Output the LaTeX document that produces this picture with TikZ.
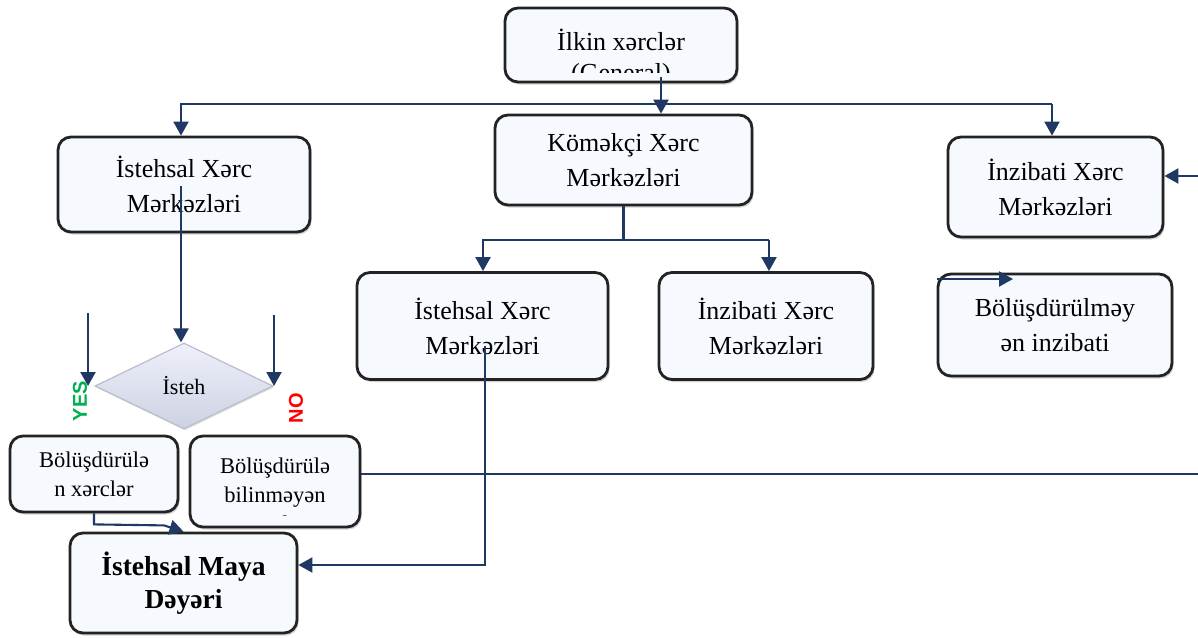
\documentclass[tikz,border=0pt]{standalone}
\usepackage{fontspec}
\setmainfont{Liberation Serif}
\newfontfamily\lsans{Liberation Sans}
\usetikzlibrary{arrows.meta,shapes.geometric,shadows}
\definecolor{navy}{RGB}{31,56,100}
\definecolor{boxfill}{RGB}{246,250,255}
\definecolor{boxedge}{RGB}{35,35,35}
\definecolor{diatop}{RGB}{238,240,250}
\definecolor{diabot}{RGB}{205,209,226}
\definecolor{diaedge}{RGB}{185,189,205}
\definecolor{yesgreen}{RGB}{0,176,80}
\definecolor{nored}{RGB}{255,0,0}
\tikzset{
  box/.style={draw=boxedge, line width=2.8pt, fill=boxfill, rounded corners=13pt,
    inner sep=0pt, align=center,
    drop shadow={opacity=0.35, shadow xshift=1.5pt, shadow yshift=-2.5pt}},
  bigtxt/.style={font=\fontsize{26}{35}\selectfont},
  smalltxt/.style={font=\fontsize{22.5}{29}\selectfont},
  conn/.style={draw=navy, line width=2.1pt},
  arr/.style={conn, -{Triangle[length=14pt,width=15pt]}},
  dia/.style={diamond, draw=diaedge, line width=1.2pt, top color=diatop, bottom color=diabot,
    inner sep=0pt, minimum width=178pt, minimum height=86pt, aspect=2.07,
    drop shadow={opacity=0.25, shadow xshift=1pt, shadow yshift=-1.5pt}},
  lbl/.style={font=\lsans\bfseries\fontsize{20}{20}\selectfont, rotate=90}
}
\begin{document}
\begin{tikzpicture}[x=1pt,y=-1pt]
\useasboundingbox (0,0) rectangle (1198,637);
\fill[white] (0,0) rectangle (1198,637);

% top box with clipped text
\node[box, minimum width=232pt, minimum height=74pt] (top) at (621,45) {};
\begin{scope}
  \clip (510,12) rectangle (732,72);
  \node[bigtxt] (toptxt1) at (621,40) {İlkin xərclər};
  \node[bigtxt] (toptxt2) at (621,75) {(General)};
\end{scope}

\node[box, bigtxt, minimum width=257pt, minimum height=90pt] (kom) at (623.5,160) {Köməkçi Xərc\\Mərkəzləri};
\node[box, bigtxt, minimum width=252pt, minimum height=95pt] (ist1) at (184,184.5) {İstehsal Xərc\\Mərkəzləri};
\node[box, bigtxt, minimum width=215pt, minimum height=100pt] (inz1) at (1055.5,187) {İnzibati Xərc\\Mərkəzləri};
\node[box, bigtxt, minimum width=251pt, minimum height=107pt] (ist2) at (482.5,326) {İstehsal Xərc\\Mərkəzləri};
\node[box, bigtxt, minimum width=214pt, minimum height=107pt] (inz2) at (766,326) {İnzibati Xərc\\Mərkəzləri};
\node[box, bigtxt, minimum width=234pt, minimum height=102pt] (bol3) at (1055,325) {Bölüşdürülməy\\ən inzibati};

\node[dia] (dia) at (184,386) {\fontsize{22}{22}\selectfont İsteh};
\node[lbl, text=yesgreen] (yes) at (80,401) {YES};
\node[lbl, text=nored] (no) at (296,408) {NO};

\node[box, smalltxt, minimum width=168pt, minimum height=76pt] (bol1) at (94,474) {Bölüşdürülə\\n xərclər};
\node[box, minimum width=170pt, minimum height=91pt] (bol2) at (275,481.5) {};
\begin{scope}
  \clip (194,440) rectangle (356,515);
  \node[smalltxt, align=center] (bol2txt) at (275,495) {Bölüşdürülə\\bilinməyən\\xərclər};
\end{scope}

\node[box, font=\bfseries\fontsize{27.5}{33}\selectfont, minimum width=227pt, minimum height=100pt] (maya) at (183.5,583) {İstehsal Maya\\Dəyəri};

% connectors
\coordinate (c1) at (661,77);
\draw[arr] (c1) -- (c1 |- kom.north);

\coordinate (hL) at (181,104);
\coordinate (hR) at (1052,104);
\draw[arr] (hR) -- (hL) -- (hL |- ist1.north);
\draw[arr] (hR) -- (hR |- inz1.north);

\coordinate (kL) at (483,240);
\coordinate (kR) at (769,240);
\draw[conn] (kom.south) -- (kom.south |- kL);
\draw[arr] (kR) -- (kL) -- (kL |- ist2.north);
\draw[arr] (kR) -- (kR |- inz2.north);

\coordinate (rIn) at (1198,176);
\draw[arr] (rIn) -- (rIn -| inz1.east);

\coordinate (b3s) at (937,279);
\coordinate (b3e) at (1013,279);
\draw[arr] (b3s) -- (b3e);

\coordinate (i1s) at (181,186);
\draw[arr] (i1s) -- (i1s |- dia.north);

\coordinate (ya) at (88,313);
\draw[arr] (ya) -- (ya |- dia.west);
\coordinate (na) at (274,315);
\draw[arr] (na) -- (na |- dia.east);

\draw[arr] (bol1.south) -- ++(0,11) -- ++(70,1) -- (maya.north);

\coordinate (rOut) at (1198,474);
\draw[conn] (bol2.east |- rOut) -- (rOut);

\coordinate (i2s) at (485,346);
\coordinate (m2) at (485,565);
\draw[arr] (i2s) -- (m2) -- (m2 -| maya.east);
\end{tikzpicture}
\end{document}
